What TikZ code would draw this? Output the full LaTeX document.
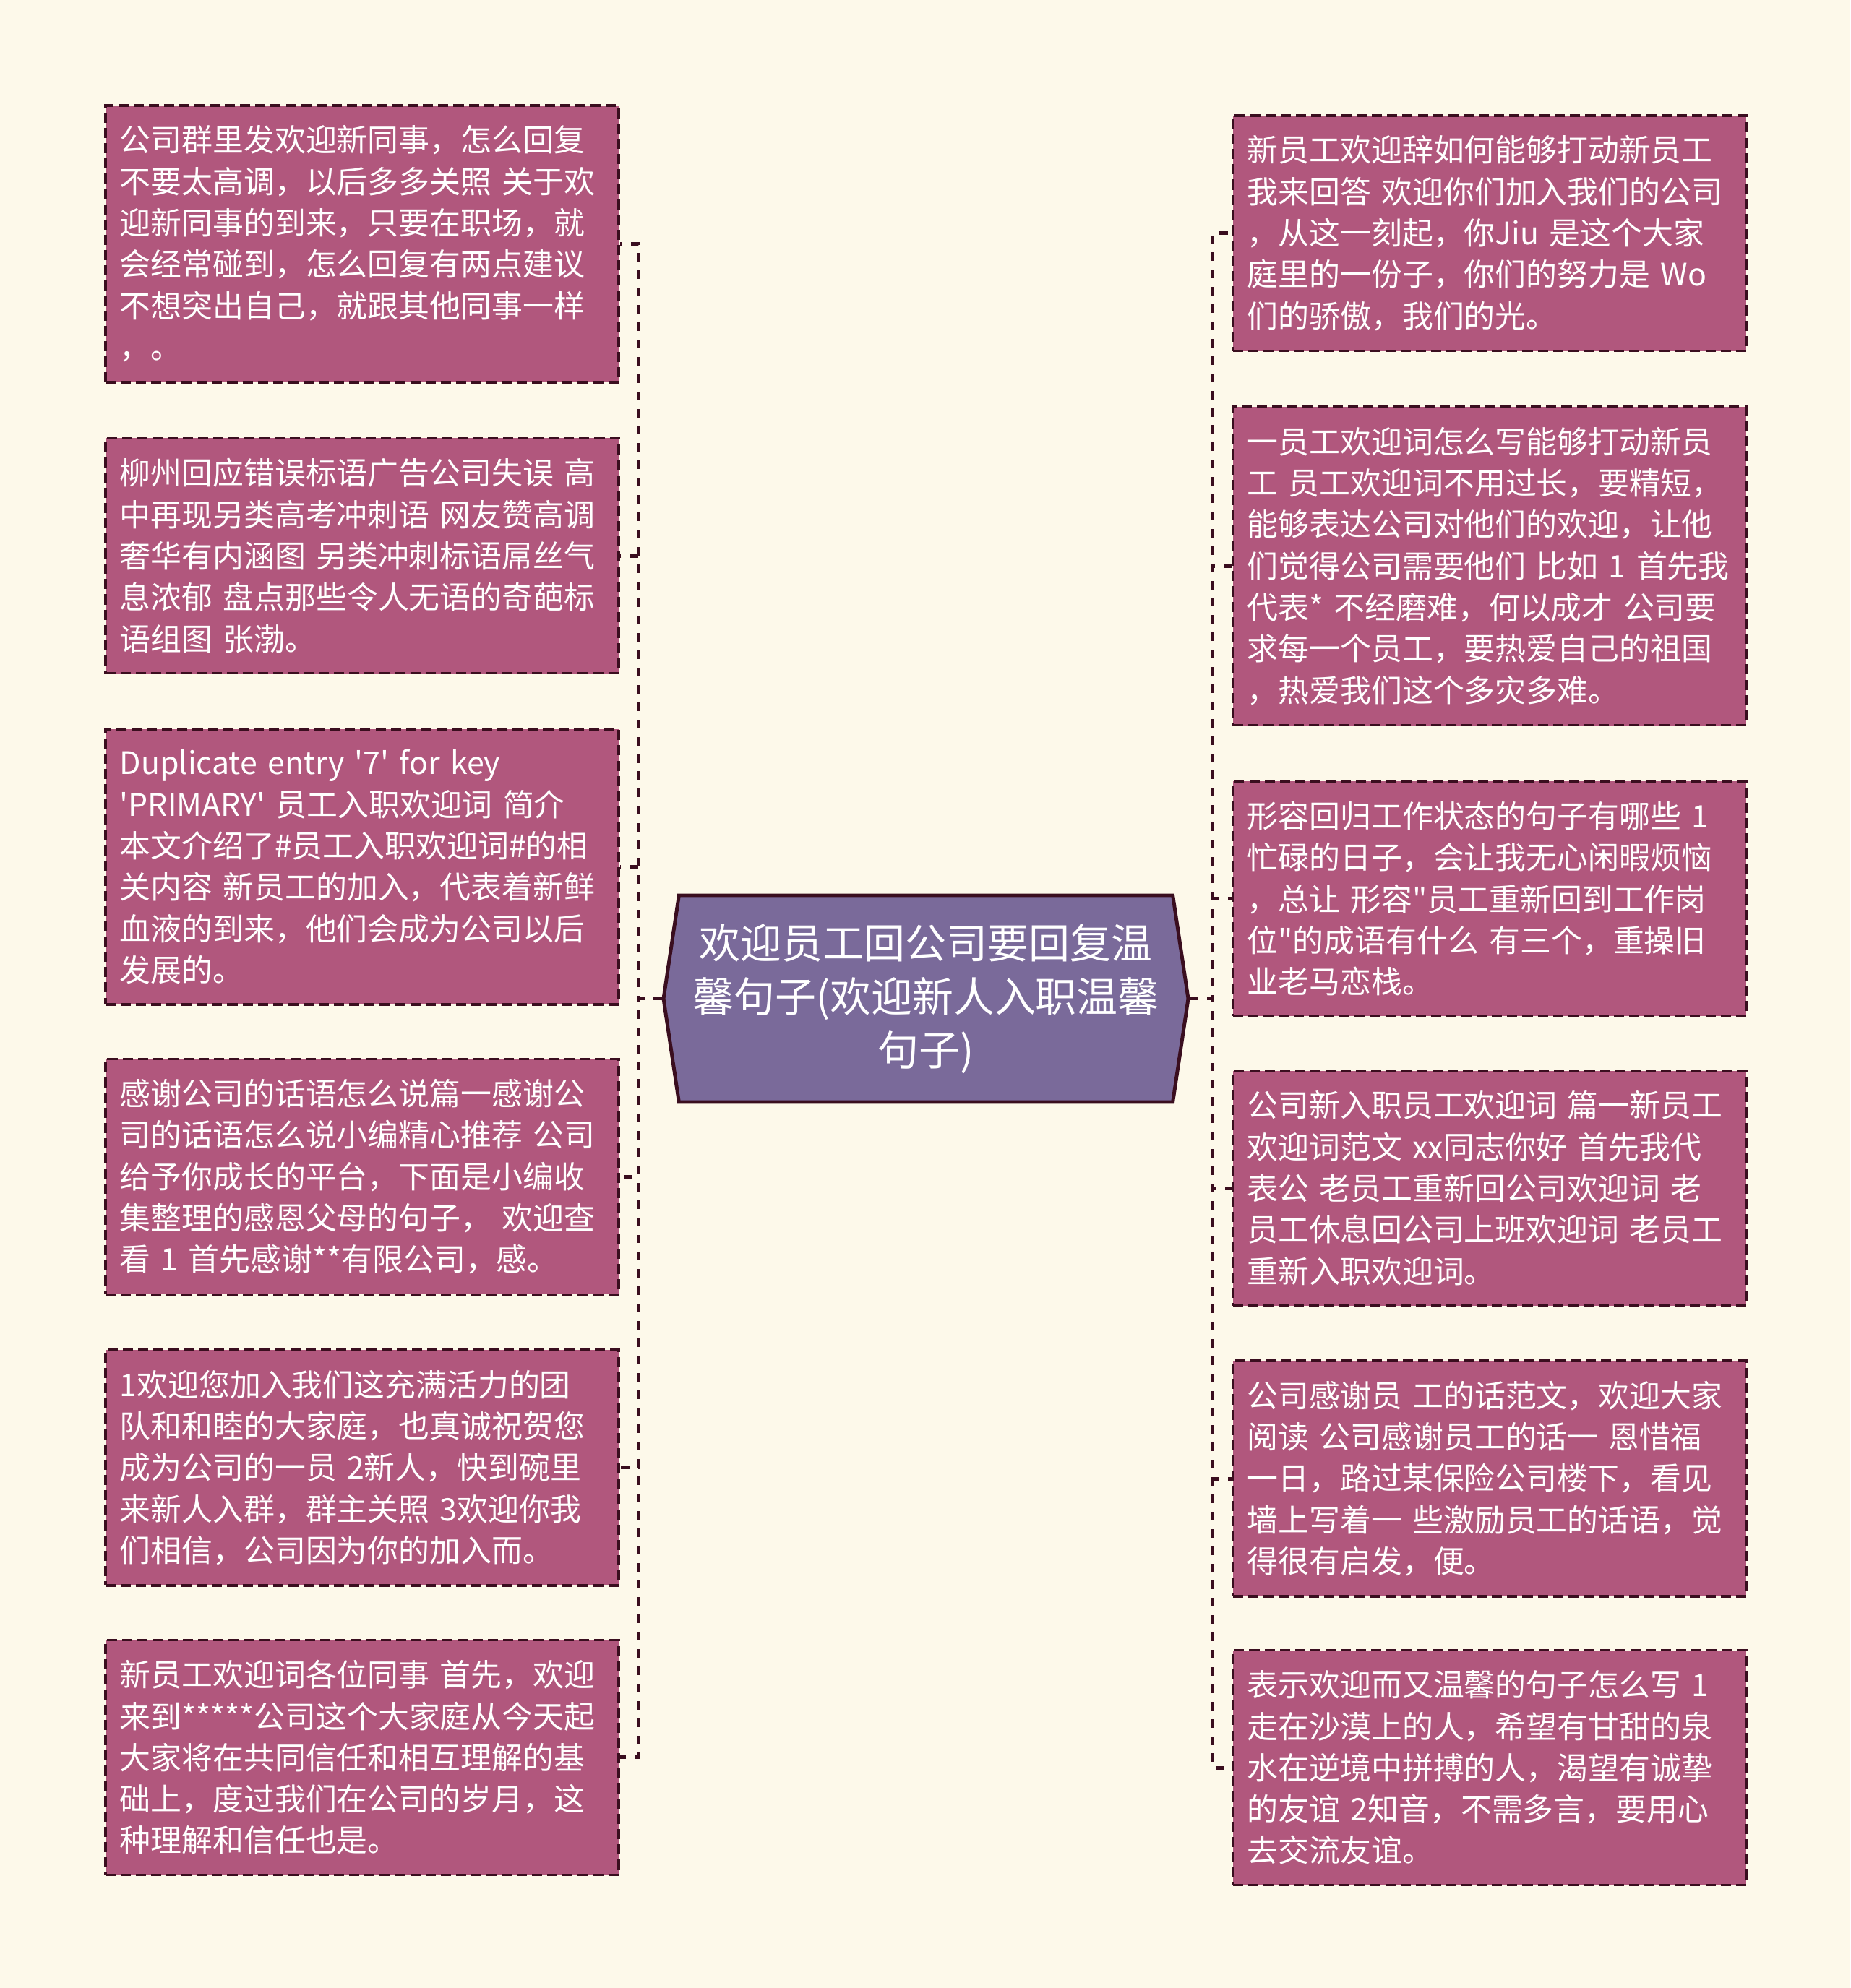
\documentclass[tikz,border=0pt]{standalone}
\usepackage{fontspec}
\setmainfont{Noto Sans CJK SC}[Ligatures=TeXOff]
\usepackage{xcolor}
\usepackage{tikz}
\usetikzlibrary{positioning,shapes.symbols}

\definecolor{bgcol}{HTML}{FDF9EA}
\definecolor{leafcol}{HTML}{B1577D}
\definecolor{rootcol}{HTML}{7A6A9A}
\definecolor{edgecol}{HTML}{3A0E1F}

\begin{document}
\begin{tikzpicture}[
    leaf/.style={rectangle, draw=edgecol, fill=leafcol, line width=1pt, dash pattern=on 4pt off 2pt,
      text=white, text width=6.7cm, inner xsep=0.2cm, inner ysep=0.28cm, align=left,
      font=\fontsize{12.2pt}{16.3pt}\selectfont},
    root/.style={signal, signal to=west and east, signal pointer angle=163, draw=edgecol, fill=rootcol,
      line width=1.4pt, text=white, minimum width=7.26cm, minimum height=2.86cm, inner sep=2pt, align=center,
      font=\fontsize{16.2pt}{21pt}\selectfont},
    link/.style={draw=edgecol, line width=1.4pt, dash pattern=on 3.4pt off 3.4pt}]
    \fill[bgcol] (0,0) rectangle (25.6,-27.51);
    \useasboundingbox (0,0) rectangle (25.6,-27.51);

    % centre
    \node[root] (root) at (12.81,-13.82) {欢迎员工回公司要回复温\\馨句子(欢迎新人入职温馨\\句子)};

    % left column
    \node[leaf, anchor=north west] (l1) at (1.44,-1.44) {公司群里发欢迎新同事，怎么回复\\不要太高调，以后多多关照 关于欢\\迎新同事的到来，只要在职场，就\\会经常碰到，怎么回复有两点建议\\不想突出自己，就跟其他同事一样\\，。};
    \node[leaf] (l2) [below=0.74cm of l1] {柳州回应错误标语广告公司失误 高\\中再现另类高考冲刺语 网友赞高调\\奢华有内涵图 另类冲刺标语屌丝气\\息浓郁 盘点那些令人无语的奇葩标\\语组图 张渤。};
    \node[leaf] (l3) [below=0.74cm of l2] {Duplicate entry '7' for key\\'PRIMARY' 员工入职欢迎词 简介\\本文介绍了\#员工入职欢迎词\#的相\\关内容 新员工的加入，代表着新鲜\\血液的到来，他们会成为公司以后\\发展的。};
    \node[leaf] (l4) [below=0.72cm of l3] {感谢公司的话语怎么说篇一感谢公\\司的话语怎么说小编精心推荐 公司\\给予你成长的平台，下面是小编收\\集整理的感恩父母的句子， 欢迎查\\看 1 首先感谢**有限公司，感。};
    \node[leaf] (l5) [below=0.73cm of l4] {1欢迎您加入我们这充满活力的团\\队和和睦的大家庭，也真诚祝贺您\\成为公司的一员 2新人，快到碗里\\来新人入群，群主关照 3欢迎你我\\们相信，公司因为你的加入而。};
    \node[leaf] (l6) [below=0.72cm of l5] {新员工欢迎词各位同事 首先，欢迎\\来到*****公司这个大家庭从今天起\\大家将在共同信任和相互理解的基\\础上，度过我们在公司的岁月，这\\种理解和信任也是。};

    % right column
    \node[leaf, anchor=north west] (r1) at (17.04,-1.58) {新员工欢迎辞如何能够打动新员工\\我来回答 欢迎你们加入我们的公司\\，从这一刻起，你Jiu 是这个大家\\庭里的一份子，你们的努力是 Wo\\们的骄傲，我们的光。};
    \node[leaf] (r2) [below=0.74cm of r1] {一员工欢迎词怎么写能够打动新员\\工 员工欢迎词不用过长，要精短，\\能够表达公司对他们的欢迎，让他\\们觉得公司需要他们 比如 1 首先我\\代表* 不经磨难，何以成才 公司要\\求每一个员工，要热爱自己的祖国\\，热爱我们这个多灾多难。};
    \node[leaf] (r3) [below=0.74cm of r2] {形容回归工作状态的句子有哪些 1\\忙碌的日子，会让我无心闲暇烦恼\\，总让 形容"员工重新回到工作岗\\位"的成语有什么 有三个，重操旧\\业老马恋栈。};
    \node[leaf] (r4) [below=0.72cm of r3] {公司新入职员工欢迎词 篇一新员工\\欢迎词范文 xx同志你好 首先我代\\表公 老员工重新回公司欢迎词 老\\员工休息回公司上班欢迎词 老员工\\重新入职欢迎词。};
    \node[leaf] (r5) [below=0.73cm of r4] {公司感谢员 工的话范文，欢迎大家\\阅读 公司感谢员工的话一 恩惜福\\一日，路过某保险公司楼下，看见\\墙上写着一 些激励员工的话语，觉\\得很有启发，便。};
    \node[leaf] (r6) [below=0.71cm of r5] {表示欢迎而又温馨的句子怎么写 1\\走在沙漠上的人，希望有甘甜的泉\\水在逆境中拼搏的人，渴望有诚挚\\的友谊 2知音，不需多言，要用心\\去交流友谊。};

    % connectors
    \foreach \n in {l1,l2,l3,l4,l5,l6}
      \draw[link] (root.west) -- ++(-0.32,0) |- (\n.east);
    \foreach \n in {r1,r2,r3,r4,r5,r6}
      \draw[link] (root.east) -- ++(0.31,0) |- (\n.west);
  \end{tikzpicture}
\end{document}
